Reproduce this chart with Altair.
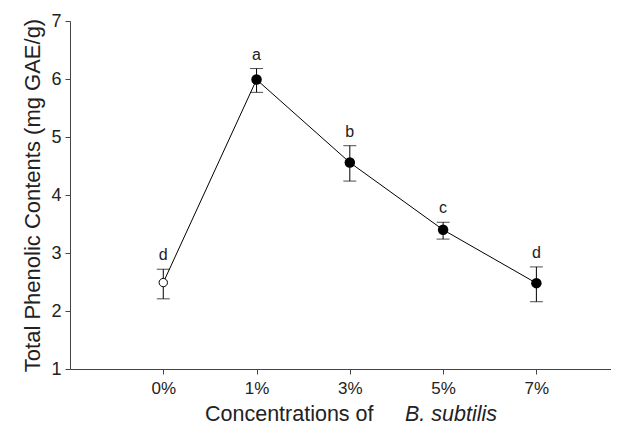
import altair as alt
import pandas as pd

categories = ["0%", "1%", "3%", "5%", "7%"]
means = [2.49, 5.99, 4.56, 3.40, 2.48]
err_low = [2.21, 5.77, 4.24, 3.24, 2.16]
err_high = [2.72, 6.18, 4.85, 3.53, 2.76]
letters = ["d", "a", "b", "c", "d"]
filled = [False, True, True, True, True]

df = pd.DataFrame({
    "idx": list(range(len(categories))),
    "cat": categories,
    "mean": means,
    "lo": err_low,
    "hi": err_high,
    "letter": letters,
    "filled": ["filled" if f else "open" for f in filled],
})

FONT = "Liberation Sans"
label_expr = "[" + ",".join("'%s'" % c for c in categories) + "][datum.value]"

xscale = alt.Scale(domain=[-1, 4.8], nice=False, zero=False)
yscale = alt.Scale(domain=[1, 7], nice=False, zero=False)

xaxis = alt.Axis(
    values=list(range(len(categories))), labelExpr=label_expr, title=None,
    grid=False, tickSize=5, labelPadding=6, labelFontSize=17, labelFont=FONT,
    labelColor="#222", domainColor="#444", tickColor="#444")
yaxis = alt.Axis(
    values=[1, 2, 3, 4, 5, 6, 7], format="d", title="Total Phenolic Contents (mg GAE/g)",
    grid=False, tickSize=5, labelPadding=4, labelFontSize=18, labelFont=FONT,
    titleFont=FONT, titleFontSize=22, titleFontWeight="normal", titleColor="#222",
    titlePadding=6, labelColor="#222", domainColor="#444", tickColor="#444")

xe = alt.X("idx:Q", scale=xscale, axis=xaxis)
def ye(f):
    return alt.Y(f, scale=yscale, axis=yaxis)

base = alt.Chart(df)

line = base.mark_line(color="black", strokeWidth=1).encode(x=xe, y=ye("mean:Q"))

rules = base.mark_rule(color="black", strokeWidth=1).encode(
    x=xe, y=ye("lo:Q"), y2="hi:Q")
cap_lo = base.mark_tick(orient="horizontal", color="black", thickness=1, size=13).encode(
    x=xe, y=ye("lo:Q"))
cap_hi = base.mark_tick(orient="horizontal", color="black", thickness=1, size=13).encode(
    x=xe, y=ye("hi:Q"))

pts_filled = base.transform_filter("datum.filled == 'filled'").mark_point(
    shape="circle", size=110, filled=True, color="black", opacity=1).encode(
    x=xe, y=ye("mean:Q"))
pts_open = base.transform_filter("datum.filled == 'open'").mark_point(
    shape="circle", size=70, filled=True, fill="white", stroke="black",
    strokeWidth=1, opacity=1).encode(x=xe, y=ye("mean:Q"))

letters_layer = base.mark_text(baseline="bottom", dy=-6, fontSize=16, font=FONT,
                               color="#222").encode(
    x=xe, y=ye("hi:Q"), text="letter:N")

title_df = pd.DataFrame({"t": ["Concentrations of"]})
title_df2 = pd.DataFrame({"t": ["B. subtilis"]})
xt1 = alt.Chart(title_df).mark_text(align="left", baseline="alphabetic", fontSize=21.5,
                                    font=FONT, color="#222").encode(
    x=alt.value(135), y=alt.value(400), text="t:N")
xt2 = alt.Chart(title_df2).mark_text(align="left", baseline="alphabetic", fontSize=21.5,
                                     font=FONT, fontStyle="italic", color="#222").encode(
    x=alt.value(335), y=alt.value(400), text="t:N")

chart = alt.layer(line, rules, cap_lo, cap_hi, pts_filled, pts_open, letters_layer,
                  xt1, xt2).properties(
    width=541, height=348,
    autosize=alt.AutoSizeParams(type="none"),
    padding={"left": 62, "top": 13, "right": 0, "bottom": 59},
).configure(background="white").configure_view(stroke=None)

chart.save("out.html", embed_options={"renderer": "svg", "actions": False})
